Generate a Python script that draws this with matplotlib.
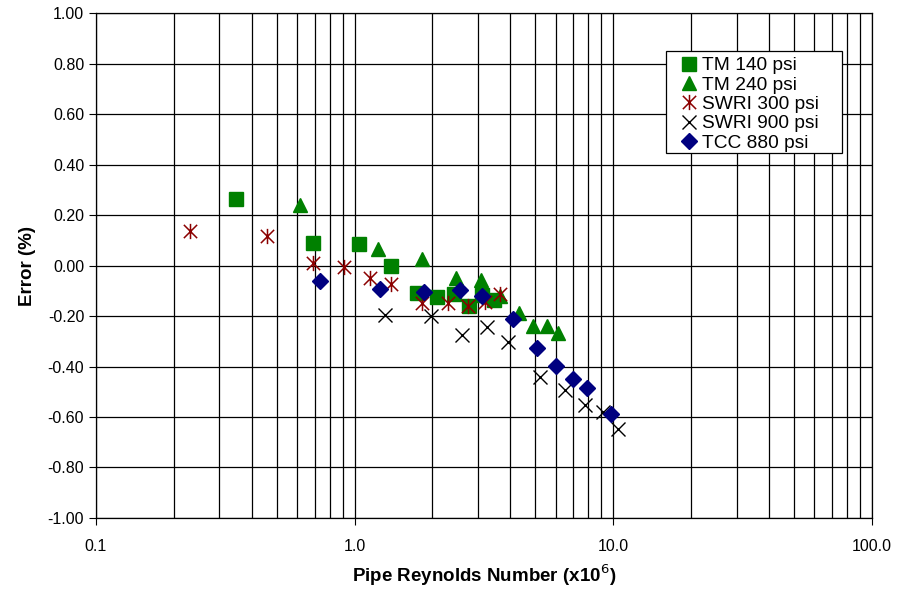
import matplotlib
matplotlib.use("Agg")
import matplotlib.pyplot as plt
from matplotlib.path import Path
from matplotlib.patches import Rectangle
from matplotlib.ticker import FixedLocator, LogLocator, NullFormatter

plt.rcParams['font.family'] = ['Liberation Sans', 'DejaVu Sans']

# TM 140 psi
tm140_x = [0.347, 0.690, 1.042, 1.386, 1.735, 2.085, 2.43, 2.77, 3.10, 3.45]
tm140_y = [0.263, 0.091, 0.087, -0.003, -0.110, -0.123, -0.112, -0.160, -0.118, -0.136]
# TM 240 psi
tm240_x = [0.615, 1.235, 1.825, 2.46, 3.08, 3.65, 4.34, 4.88, 5.55, 6.11]
tm240_y = [0.240, 0.065, 0.025, -0.050, -0.057, -0.120, -0.190, -0.238, -0.238, -0.268]
# SWRI 300 psi
swri300_x = [0.231, 0.457, 0.690, 0.907, 1.143, 1.383, 1.825, 2.29, 2.74, 3.20, 3.66]
swri300_y = [0.137, 0.115, 0.010, -0.004, -0.050, -0.074, -0.149, -0.149, -0.160, -0.145, -0.112]
# SWRI 900 psi
swri900_x = [1.305, 1.97, 2.61, 3.25, 3.91, 5.23, 6.49, 7.80, 9.09, 10.39]
swri900_y = [-0.195, -0.198, -0.277, -0.244, -0.303, -0.442, -0.495, -0.554, -0.581, -0.648]
# TCC 880 psi
tcc_x = [0.733, 1.25, 1.847, 2.55, 3.12, 4.09, 5.07, 6.03, 6.96, 7.93, 9.83]
tcc_y = [-0.061, -0.094, -0.105, -0.096, -0.120, -0.212, -0.327, -0.397, -0.449, -0.486, -0.589]

xticks = [0.1, 1, 10, 100]
xticklabels = ['0.1', '1.0', '10.0', '100.0']

# excel style star: vertical line plus an x
star = Path([(0, -1), (0, 1), (-0.87, -0.87), (0.87, 0.87), (-0.87, 0.87), (0.87, -0.87)],
            [Path.MOVETO, Path.LINETO, Path.MOVETO, Path.LINETO, Path.MOVETO, Path.LINETO])

fig = plt.figure(figsize=(9.16, 5.93), dpi=100)
ax = fig.add_axes([0.1048, 0.1265, 0.847, 0.8515])

ax.plot(tm140_x, tm140_y, 's', color='#008000', markersize=10.5, mec='#008000', label='TM 140 psi')
ax.plot(tm240_x, tm240_y, '^', color='#008000', markersize=10.5, mec='#008000', label='TM 240 psi')
ax.plot(swri300_x, swri300_y, marker=star, ls='none', color='#8b0000', markersize=11,
        mew=1.1, label='SWRI 300 psi')
ax.plot(swri900_x, swri900_y, 'x', color='black', markersize=10, mew=1.0, label='SWRI 900 psi')
ax.plot(tcc_x, tcc_y, 'D', color='#000080', markersize=8, mec='#000080', label='TCC 880 psi')

ax.set_xscale('log')
ax.set_xlim(0.1, 100)
ax.set_ylim(-1, 1)
ax.xaxis.set_major_locator(FixedLocator(xticks))
ax.set_xticklabels(xticklabels)
ax.xaxis.set_minor_locator(LogLocator(base=10, subs=range(2, 10)))
ax.xaxis.set_minor_formatter(NullFormatter())
ax.set_yticks([i / 10 for i in range(-10, 11, 2)])
ax.yaxis.set_major_formatter(plt.FormatStrFormatter('%.2f'))

ax.grid(True, which='major', color='black', lw=0.9)
ax.grid(True, which='minor', axis='x', color='black', lw=0.9)
ax.set_axisbelow(True)
ax.tick_params(which='major', direction='out', length=5, labelsize=11.5, color='black')
ax.tick_params(which='minor', length=0)
ax.tick_params(axis='x', pad=10)
for s in ax.spines.values():
    s.set_color('black')
    s.set_linewidth(0.9)

ax.set_xlabel('Pipe Reynolds Number (x10$^{6}$)', fontsize=13.5, fontweight='bold', labelpad=6)
ax.set_ylabel('Error (%)', fontsize=13.5, fontweight='bold', labelpad=8)

# legend box drawn by hand (excel leaves extra room on the right)
box = Rectangle((666 / 916, 1 - 153 / 593), 176 / 916, 102 / 593, transform=fig.transFigure,
                facecolor='white', edgecolor='black', lw=0.9, zorder=4)
ax.add_patch(box)
leg = ax.legend(loc='upper left', bbox_to_anchor=(0.755, 0.913), fontsize=13.8,
                frameon=False, borderpad=0, labelspacing=0.1, handlelength=0.8,
                handletextpad=0.25, borderaxespad=0)
leg.set_zorder(5)

fig.savefig('out.png', dpi=100)
